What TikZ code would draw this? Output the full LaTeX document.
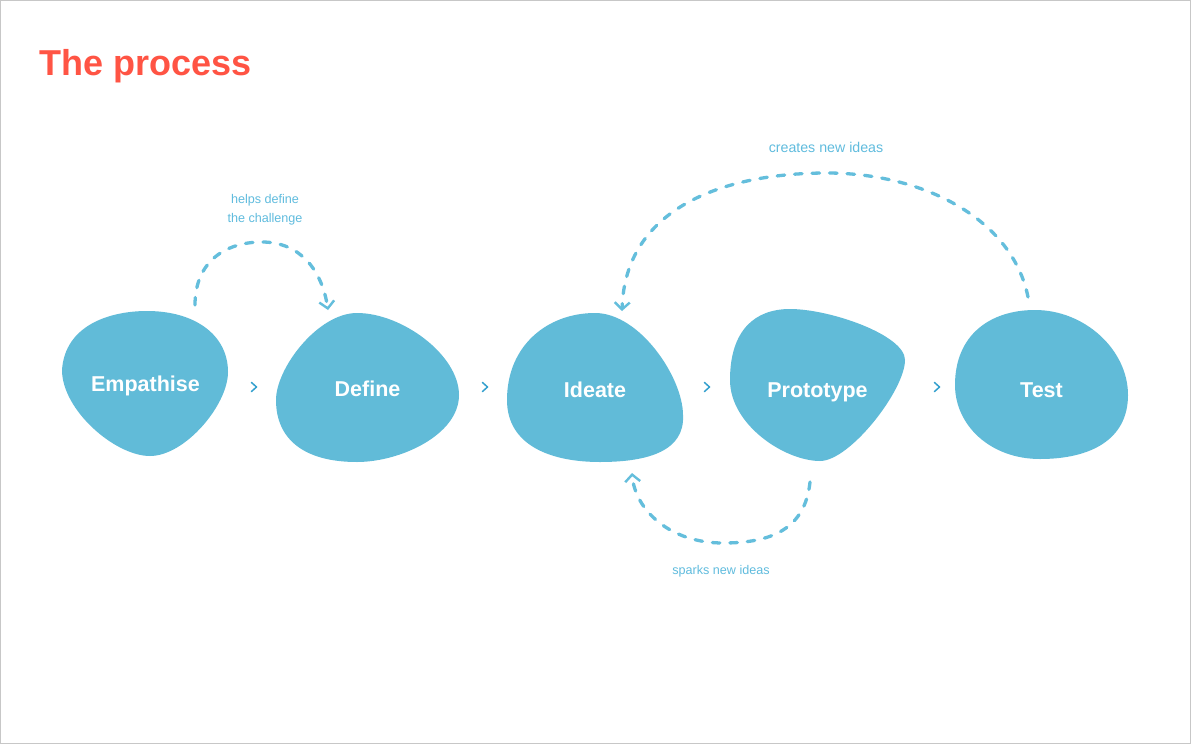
\documentclass[tikz,border=0pt]{standalone}
\usepackage{fontspec}
\setmainfont{Liberation Sans}
\usetikzlibrary{arrows.meta}
\definecolor{blob}{RGB}{97,187,216}
\definecolor{titlered}{RGB}{255,84,68}
\definecolor{lbl}{RGB}{96,188,222}
\definecolor{dashc}{RGB}{100,190,220}
\definecolor{chevc}{RGB}{52,160,206}
\tikzset{
  blobshape/.style={fill=blob, draw=none},
  stagelabel/.style={text=white, font=\bfseries\fontsize{21.5}{24}\selectfont, anchor=base, inner sep=0pt},
  smalllabel/.style={text=lbl, font=\fontsize{12.6}{15}\selectfont, inner sep=0pt},
  loop/.style={draw=dashc, line width=3.3pt, line cap=round, dash pattern=on 7.5pt off 10pt,
     -{Straight Barb[length=7pt,width=15pt,line width=2.4pt]}},
  chev/.style={draw=chevc, line width=1.5pt, line cap=round, line join=round},
}
\begin{document}
\begin{tikzpicture}[x=1pt,y=-1pt]
\useasboundingbox (0,0) rectangle (1191,744);
\fill[white] (0,0) rectangle (1191,744);
\draw[black!22, line width=1.2pt] (0.6,0.6) rectangle (1190.4,743.4);

% title
\node[text=titlered, font=\bfseries\fontsize{36}{40}\selectfont, anchor=base west, inner sep=0pt] (title) at (39,75) {The process};

% blobs
\fill[blobshape] (147,311) .. controls (195,311) and (228,335) .. (228,372)
  .. controls (228,405) and (185,456) .. (150,456)
  .. controls (115,456) and (62,410) .. (62,370)
  .. controls (65,325) and (110,311) .. cycle;
\fill[blobshape] (357,313) .. controls (402,313) and (459,355) .. (459,395)
  .. controls (459,435) and (400,462) .. (357,462)
  .. controls (305,462) and (276,440) .. (276,400)
  .. controls (276,368) and (318,313) .. cycle;
\fill[blobshape] (595,313) .. controls (640,313) and (683,378) .. (683,415)
  .. controls (685,450) and (650,462) .. (600,462)
  .. controls (550,462) and (507,445) .. (507,400)
  .. controls (507,345) and (548,313) .. cycle;
\fill[blobshape] (790,309) .. controls (830,309) and (905,335) .. (905,360)
  .. controls (905,390) and (850,461) .. (820,461)
  .. controls (785,461) and (730,425) .. (730,380)
  .. controls (730,330) and (755,309) .. cycle;
\fill[blobshape] (1035,310) .. controls (1085,310) and (1128,350) .. (1128,395)
  .. controls (1128,440) and (1090,459) .. (1040,459)
  .. controls (990,459) and (955,425) .. (955,385)
  .. controls (955,335) and (990,310) .. cycle;

% stage labels
\node[stagelabel] (emp) at (145.5,391) {Empathise};
\node[stagelabel] (def) at (367.5,396) {Define};
\node[stagelabel] (ide) at (595,397) {Ideate};
\node[stagelabel] (pro) at (817.5,397) {Prototype};
\node[stagelabel] (tes) at (1041.5,397) {Test};

% chevrons
\foreach \cx in {254,485,707,937}{
  \draw[chev] (\cx-2.5,382.5) -- (\cx+2.5,387) -- (\cx-2.5,391.5);
}

% loop connectors
\coordinate (empOut) at (195,305);
\coordinate (defIn) at (328,310);
\draw[loop] (empOut) .. controls (195,262) and (225,242) .. (262,242)
   .. controls (300,242) and (322,270) .. (defIn);

\coordinate (tesOut) at (1028,297);
\coordinate (ideIn) at (622,311);
\draw[loop] (tesOut) .. controls (1012,218) and (922,173) .. (827,173)
   .. controls (720,173) and (625,210) .. (ideIn);

\coordinate (proOut) at (810,482);
\coordinate (ideIn2) at (632,473);
\draw[loop] (proOut) .. controls (805,530) and (770,543) .. (723,543)
   .. controls (670,543) and (635,510) .. (ideIn2);

% loop labels
\node[smalllabel] (l1a) at (265,200) {helps define};
\node[smalllabel] (l1b) at (265,219.5) {the challenge};
\node[smalllabel, font=\fontsize{14.2}{16}\selectfont] (l2) at (826,147) {creates new ideas};
\node[smalllabel] (l3) at (721,571) {sparks new ideas};
\end{tikzpicture}
\end{document}
